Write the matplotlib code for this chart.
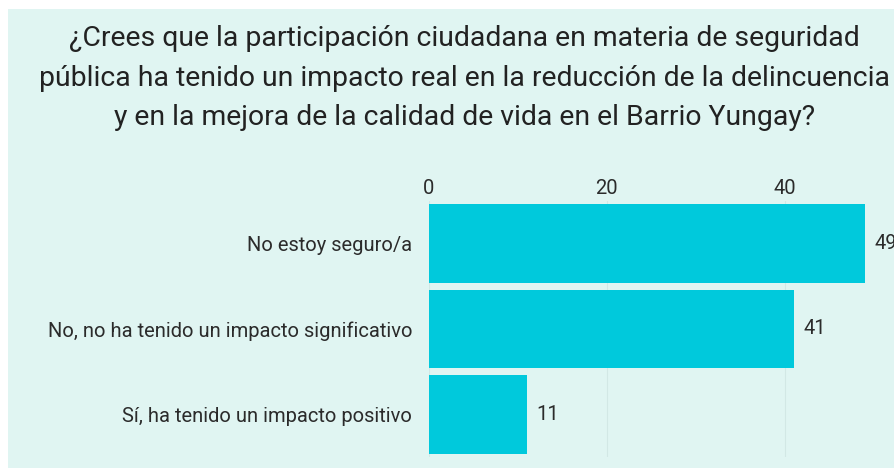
# --- survey chart: participacion ciudadana / Barrio Yungay --- #

import matplotlib.pyplot as plt
from matplotlib.patches import Rectangle

plt.rcParams["font.family"] = ["Roboto", "DejaVu Sans"]

TITLE = ("¿Crees que la participación ciudadana en materia de seguridad\n"
         "pública ha tenido un impacto real en la reducción de la delincuencia\n"
         "y en la mejora de la calidad de vida en el Barrio Yungay?")

categories = [
    "No estoy seguro/a",
    "No, no ha tenido un impacto significativo",
    "Sí, ha tenido un impacto positivo",
]
counts = [49, 41, 11]
ticks = [0, 20, 40]

BG = "#e0f5f2"
BAR = "#00c9dc"
TXT = "#2b2b2b"

fig = plt.figure(figsize=(8.95, 4.68), dpi=100)
fig.patch.set_facecolor("white")

# light panel behind everything (white margin on left/top)
panel = Rectangle((8 / 895, 0), 1, 1 - 9 / 468, transform=fig.transFigure,
                  facecolor=BG, edgecolor="none", zorder=-5)
fig.patches.append(panel)

fig.text(0.519, 0.833, TITLE, ha="center", va="center", fontsize=20.4,
         color="#222222", linespacing=1.6)

ax = fig.add_axes([428.7 / 895, 11 / 468, 445 / 895, 256 / 468])
ax.set_facecolor("none")

y = list(range(len(categories)))
ax.barh(y, counts, height=0.92, color=BAR, zorder=2)
for yi, v in zip(y, counts):
    ax.text(v + 1.1, yi, str(v), va="center", ha="left", fontsize=14.5,
            color=TXT, clip_on=False)

ax.set_xlim(0, 50)
ax.set_ylim(len(categories) - 0.5, -0.5)
ax.set_xticks(ticks)
ax.set_yticks(y)
ax.set_yticklabels(categories)
ax.xaxis.tick_top()
ax.tick_params(axis="x", length=0, pad=2, labelsize=14.5, labelcolor=TXT)
ax.tick_params(axis="y", length=0, pad=12, labelsize=14.5, labelcolor=TXT)
ax.grid(True, axis="x", color="#d2e8e5", linewidth=0.8, zorder=1)
for s in ax.spines.values():
    s.set_visible(False)

fig.savefig("out.png", dpi=100, facecolor=fig.get_facecolor())
